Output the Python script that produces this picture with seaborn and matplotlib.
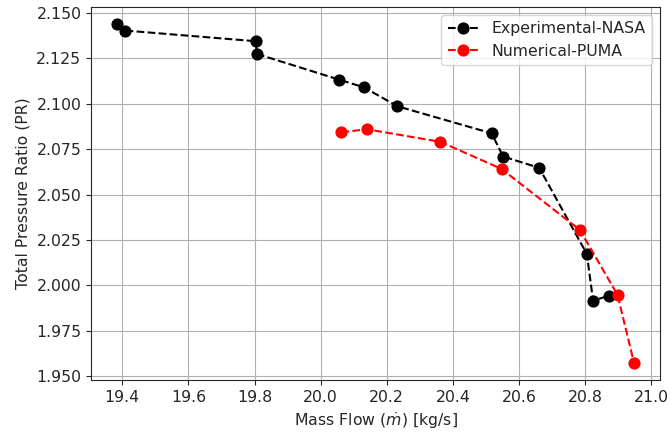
import pandas as pd
import matplotlib
matplotlib.use('Agg')
import matplotlib.pyplot as plt
import seaborn as sns

# Experimental data (NASA)
exp_mass_flow = [19.384, 19.407, 19.804, 19.807, 20.055, 20.131, 20.232,
                 20.517, 20.552, 20.661, 20.805, 20.824, 20.873]
exp_pr = [2.1440, 2.1404, 2.1345, 2.1275, 2.1134, 2.1091, 2.0987,
          2.0838, 2.0710, 2.0648, 2.0174, 1.9917, 1.9944]

# Numerical data (PUMA)
num_mass_flow = [20.063, 20.141, 20.362, 20.547, 20.784, 20.898, 20.948]
num_pr = [2.0844, 2.0860, 2.0791, 2.0642, 2.0306, 1.9948, 1.9572]

exp_df = pd.DataFrame({'mass_flow': exp_mass_flow, 'pr': exp_pr})
num_df = pd.DataFrame({'mass_flow': num_mass_flow, 'pr': num_pr})

sns.set_style('ticks')
plt.rcParams['font.family'] = ['DejaVu Sans']
plt.rcParams['font.size'] = 11.3

fig, ax = plt.subplots(figsize=(6.7, 4.38), dpi=100)

sns.lineplot(data=exp_df, x='mass_flow', y='pr', ax=ax, sort=False, estimator=None,
             color='black', linestyle='--', marker='o', markersize=8,
             markeredgecolor='black', label='Experimental-NASA')
sns.lineplot(data=num_df, x='mass_flow', y='pr', ax=ax, sort=False, estimator=None,
             color='red', linestyle='--', marker='o', markersize=8,
             markeredgecolor='red', label='Numerical-PUMA')

ax.set_xlabel('Mass Flow ($\\dot{m}$) [kg/s]', fontsize=11.3)
ax.set_ylabel('Total Pressure Ratio (PR)', fontsize=11.3)
ax.tick_params(labelsize=11.3)
ax.yaxis.set_major_formatter(matplotlib.ticker.FormatStrFormatter('%.3f'))
ax.grid(True, color='#b0b0b0', linewidth=0.8)
ax.legend(loc='upper right', frameon=True, fontsize=11.3)

fig.subplots_adjust(left=0.136, right=0.985, top=0.984, bottom=0.132)
fig.savefig('out.png', dpi=100)
